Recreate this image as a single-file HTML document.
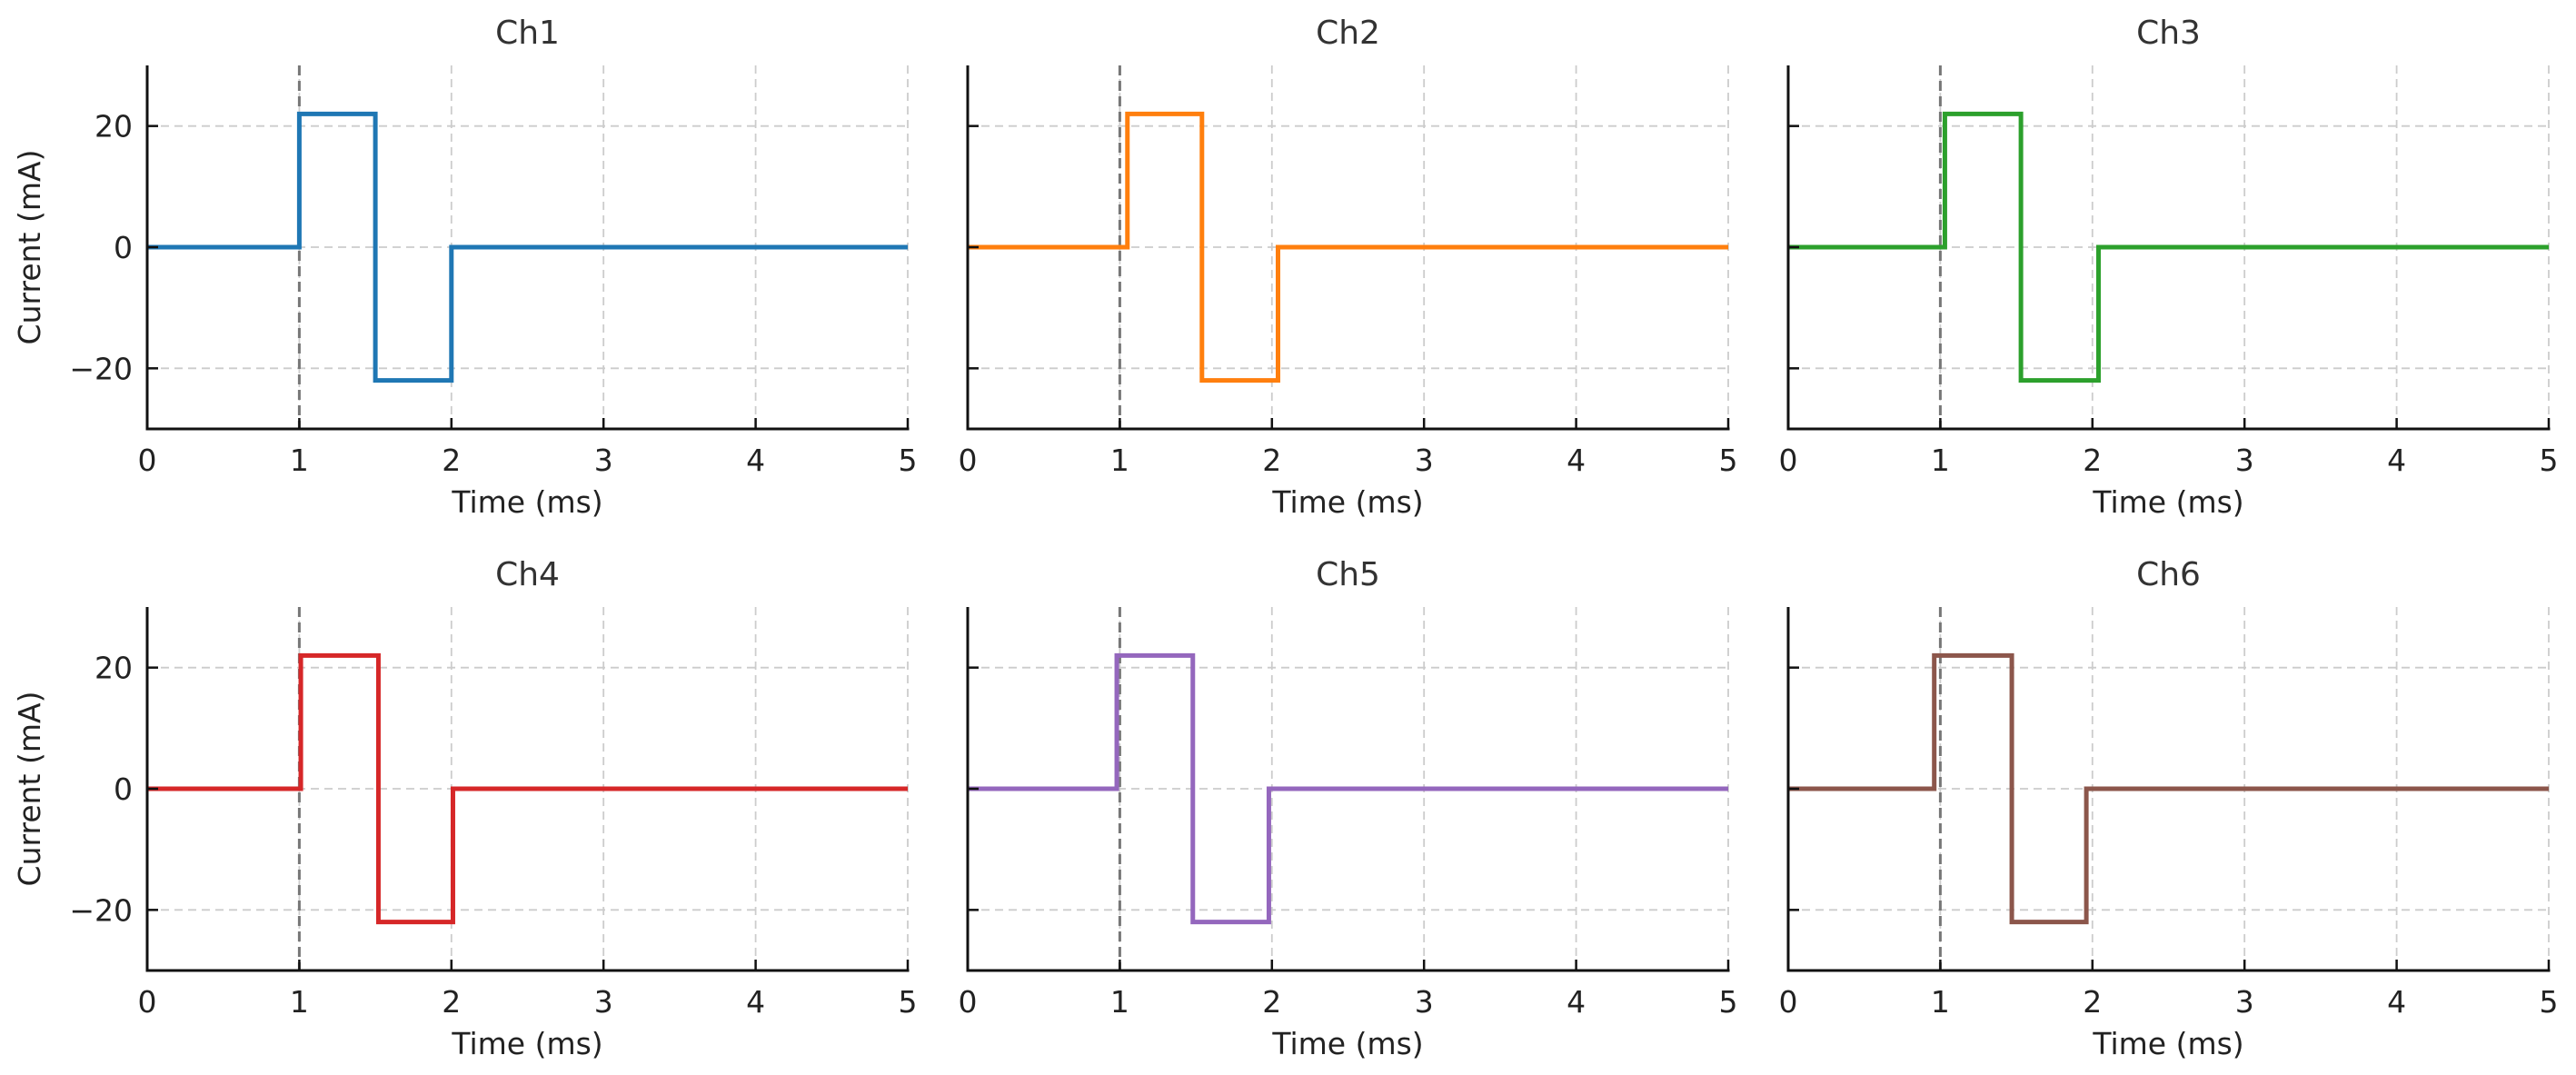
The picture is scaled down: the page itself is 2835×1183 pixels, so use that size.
<!DOCTYPE html>
<html><head><meta charset="utf-8"><style>
html,body{margin:0;padding:0;background:#fff;}
svg{display:block;font-family:"DejaVu Sans","Liberation Sans",sans-serif;}
</style></head><body>
<svg id="chart" width="2835" height="1183" viewBox="0 0 2835 1183" xmlns="http://www.w3.org/2000/svg"></svg>
<script>
const channelNames = ["Ch1","Ch2","Ch3","Ch4","Ch5","Ch6"];
const channelColors = ["#1f77b4","#ff7f0e","#2ca02c","#d62728","#9467bd","#8c564b"];
const riseTimes = [1.00, 1.05, 1.03, 1.01, 0.98, 0.96];
const fallTimes = [1.50, 1.54, 1.53, 1.52, 1.48, 1.47];
const returnTimes = [2.00, 2.04, 2.04, 2.01, 1.98, 1.96];
const amplitudes = [22, 22, 22, 22, 22, 22];
const xTicks = [0,1,2,3,4,5];
const yTicks = [-20,0,20];
const yTickLabels = ["\u221220","0","20"];
const markerTime = 1;

const NS="http://www.w3.org/2000/svg";
const svg=document.getElementById('chart');
function mk(tag,attrs,parent){const e=document.createElementNS(NS,tag);for(const k in attrs)e.setAttribute(k,attrs[k]);(parent||svg).appendChild(e);return e;}

const colLeft=[162,1065,1968], rowTop=[72,668], W=837, H=400;
const xMin=0,xMax=5,yMin=-30,yMax=30;

channelNames.forEach((name,i)=>{
  const L=colLeft[i%3], T=rowTop[Math.floor(i/3)];
  const sx=v=>L+(v-xMin)/(xMax-xMin)*W;
  const sy=v=>T+(yMax-v)/(yMax-yMin)*H;
  const g=mk('g',{});
  
  
  xTicks.forEach(t=>{const l=mk('line',{x1:sx(t),x2:sx(t),y1:T,y2:T+H,stroke:'#cccccc','stroke-width':1.8,'stroke-dasharray':'9,6'},g);
    });
  yTicks.forEach(t=>{const l=mk('line',{x1:L,x2:L+W,y1:sy(t),y2:sy(t),stroke:'#cccccc','stroke-width':1.8,'stroke-dasharray':'9,6'},g);
    });
  const m=mk('line',{x1:sx(markerTime),x2:sx(markerTime),y1:T,y2:T+H,stroke:'#777777','stroke-width':3,'stroke-dasharray':'11,6'},g);
  
  const a=amplitudes[i], r=riseTimes[i], f=fallTimes[i], e=returnTimes[i];
  const pts=[[0,0],[r,0],[r,a],[f,a],[f,-a],[e,-a],[e,0],[5,0]];
  const p=mk('polyline',{points:pts.map(q=>sx(q[0])+','+sy(q[1])).join(' '),fill:'none',stroke:channelColors[i],'stroke-width':5,'stroke-linejoin':'miter'},g);
  
  const s1=mk('line',{x1:L,x2:L,y1:T,y2:T+H+1.5,stroke:'#111','stroke-width':3},g);
  
  const s2=mk('line',{x1:L-1.5,x2:L+W+1.5,y1:T+H,y2:T+H,stroke:'#111','stroke-width':3},g);
  
  xTicks.forEach((t,k)=>{
    const tk=mk('line',{x1:sx(t),x2:sx(t),y1:T+H,y2:T+H-12,stroke:'#111','stroke-width':2.5},g);
    
    const tx=mk('text',{x:sx(t),y:T+H+46,'text-anchor':'middle','font-size':33,fill:'#222'},g);
    tx.textContent=String(t);
    
  });
  yTicks.forEach((t,k)=>{
    const tk=mk('line',{x1:L,x2:L+12,y1:sy(t),y2:sy(t),stroke:'#111','stroke-width':2.5},g);
    
    if(i%3===0){
      const tx=mk('text',{x:L-16,y:sy(t)+12,'text-anchor':'end','font-size':33,fill:'#222'},g);
      tx.textContent=yTickLabels[k];
      
    }
  });
  const ti=mk('text',{x:L+W/2,y:T-24,'text-anchor':'middle','font-size':36,fill:'#333'},g);
  ti.textContent=name;
  const xl=mk('text',{x:L+W/2,y:T+H+92,'text-anchor':'middle','font-size':33,fill:'#222'},g);
  xl.textContent='Time (ms)';
  if(i%3===0){
    const cy=T+H/2;
    const yl=mk('text',{x:44,y:cy,'text-anchor':'middle','font-size':33,fill:'#222',transform:'rotate(-90 44 '+cy+')'},g);
    yl.textContent='Current (mA)';
  }
});
</script>
</body></html>
